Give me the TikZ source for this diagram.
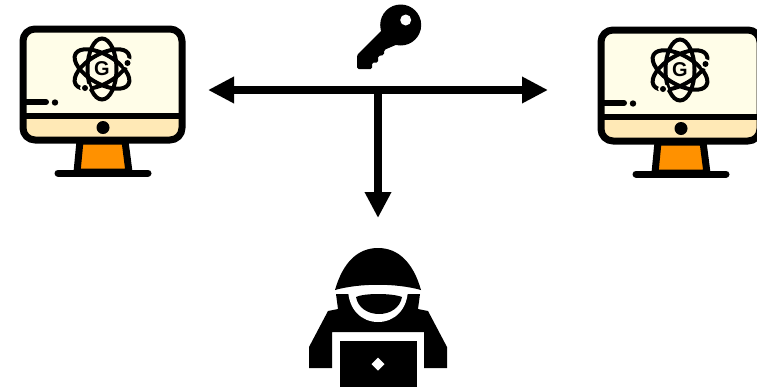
\documentclass[tikz,border=0pt]{standalone}
\usepackage{fontspec}
\setsansfont{Liberation Sans}
\usetikzlibrary{arrows.meta}
\definecolor{screencol}{HTML}{FFFDE8}
\definecolor{chincol}{HTML}{FFE9B6}
\definecolor{standcol}{HTML}{FF9100}
\tikzset{
  x=1pt,y=-1pt,
  outline/.style={draw=black,line width=7pt,line join=round,line cap=round},
  orbit/.style={draw=black,line width=4pt},
  bigarrow/.style={draw=black,line width=8.5pt,-{Triangle[length=26pt,width=25pt]},shorten >=0pt},
  gmark/.style={inner sep=0pt,font=\sffamily\bfseries\fontsize{20}{20}\selectfont},
  pics/monitor/.style={code={
    % stand
    \filldraw[fill=standcol,outline] (80,141) -- (77,172) -- (129,172) -- (125,141) -- cycle;
    \draw[outline] (58,173) -- (148,173);
    % screen and chin
    \fill[chincol] (23,115) -- (182,115) -- (182,128) arc[start angle=0,end angle=90,radius=12] -- (35,140) arc[start angle=90,end angle=180,radius=12] -- cycle;
    \fill[screencol] (23,115) -- (23,41) arc[start angle=180,end angle=270,radius=12] -- (170,29) arc[start angle=270,end angle=360,radius=12] -- (182,115) -- cycle;
    \draw[outline] (23,41) arc[start angle=180,end angle=270,radius=12] -- (170,29) arc[start angle=270,end angle=360,radius=12] -- (182,128) arc[start angle=0,end angle=90,radius=12] -- (35,140) arc[start angle=90,end angle=180,radius=12] -- cycle;
    \draw[black,line width=6pt] (23,115.5) -- (182,115.5);
    \fill (103,127.5) circle[radius=6.5];
    \draw[black,line width=6pt,line cap=round] (23,102) -- (46,102);
    \fill (55,102.5) circle[radius=3.2];
    % atom
    \foreach \a in {90,30,-30}
      \draw[orbit,rotate around={\a:(102,69)}] (102,69) ellipse[x radius=30.5,y radius=14.5];
    \fill[screencol] (127.5,63) circle[radius=5];
    \fill (127.5,63) circle[radius=3];
    \fill[screencol] (85,88) circle[radius=5];
    \fill (85,88) circle[radius=3];
    \node[gmark] (-g) at (102,69) {G};
  }}
}
\begin{document}
\begin{tikzpicture}
\path[use as bounding box] (0,0) rectangle (757,389);
\clip (0,0) rectangle (757,389);
% monitors
\pic (pcleft) at (0,0) {monitor};
\pic (pcright) at (578,1) {monitor};
% key
\fill (400.7,25) circle[radius=20.5];
\fill[rounded corners=1.5pt] (382,30) -- (357,55) -- (357,69) -- (372,69) -- (372,62.5) -- (378,62.5) -- (378,56) -- (384,55) -- (384,50) -- (398,44) -- cycle;
\fill[white] (405.7,20) circle[radius=5.5];
% connectors
\coordinate (hub) at (378,90);
\coordinate (toleft) at (208,90);
\coordinate (toright) at (548,90);
\coordinate (todown) at (378,218);
\draw[bigarrow] (hub) -- (toleft);
\draw[bigarrow] (hub) -- (toright);
\draw[bigarrow] (hub) -- (todown);
% hacker body
\fill (309,347) -- (328,311) -- (338,309) -- (336,294) -- (420,294) -- (418,309) -- (428,311) -- (447,347) -- (447,368) -- (424,368) -- (424,332) -- (332,332) -- (332,368) -- (309,368) -- cycle;
% ring and face
\fill[white] (348,288) .. controls (348,310) and (362,322) .. (378,322) .. controls (394,322) and (408,310) .. (408,288) -- cycle;
% white strip under helmet
\fill[white] (333,291) .. controls (360,284) and (396,284) .. (423,291) -- (423,294) .. controls (396,289) and (360,289) .. (333,294) -- cycle;
\fill (356,297) .. controls (364,293) and (392,293) .. (402,297) .. controls (400,308) and (390,314) .. (379,314) .. controls (368,314) and (358,308) .. (356,297) -- cycle;
% helmet
\fill (335,290) .. controls (343,262) and (358,248) .. (378,248) .. controls (398,248) and (413,262) .. (421,290) .. controls (396,283) and (360,283) .. (335,290) -- cycle;
% laptop
\fill (339.5,340.5) rectangle (416.5,387);
\fill[white] (378,357.5) -- (384.5,364) -- (378,370.5) -- (371.5,364) -- cycle;
\end{tikzpicture}
\end{document}
